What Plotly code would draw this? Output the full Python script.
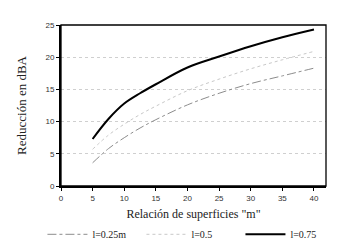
import plotly.graph_objects as go

m_vals = [5, 7.5, 10, 12.5, 15, 20, 25, 30, 35, 40]
red_025 = [3.6, 5.8, 7.5, 9.0, 10.3, 12.6, 14.4, 15.9, 17.1, 18.3]
red_05 = [5.7, 7.9, 9.6, 11.1, 12.4, 14.8, 16.6, 18.2, 19.6, 20.9]
red_075 = [7.3, 10.4, 12.8, 14.4, 15.8, 18.4, 20.1, 21.7, 23.1, 24.3]

series_names = ["l=0.25m", "l=0.5", "l=0.75"]
x_ticks = [0, 5, 10, 15, 20, 25, 30, 35, 40]
y_ticks = [0, 5, 10, 15, 20, 25]

serif = "Liberation Serif, Times New Roman, serif"
sans = "Liberation Sans, Arial, sans-serif"

fig = go.Figure()
fig.add_trace(go.Scatter(x=m_vals, y=red_025, mode="lines", name=series_names[0],
                         line=dict(color="#8c8c8c", width=1, dash="dashdot", shape="spline")))
fig.add_trace(go.Scatter(x=m_vals, y=red_05, mode="lines", name=series_names[1],
                         line=dict(color="#c8c8c8", width=1, dash="dot", shape="spline")))
fig.add_trace(go.Scatter(x=m_vals, y=red_075, mode="lines", name=series_names[2],
                         line=dict(color="black", width=2, shape="spline")))

fig.update_layout(
    width=339, height=248,
    margin=dict(l=53, r=21, t=17, b=70, autoexpand=False),
    paper_bgcolor="white", plot_bgcolor="white",
    showlegend=True,
    legend=dict(orientation="h", x=-0.07, xanchor="left", y=-0.30, yanchor="middle",
                font=dict(family=serif, size=10, color="#222"),
                entrywidth=44, itemwidth=40, tracegroupgap=0,
                bgcolor="rgba(0,0,0,0)"),
    xaxis=dict(range=[0, 41.9], tickvals=x_ticks, showgrid=False, zeroline=False,
               showline=True, linecolor="black", linewidth=2, mirror=False,
               ticks="outside", ticklen=3, tickcolor="black",
               tickfont=dict(family=sans, size=8, color="#333"),
               title=dict(text='Relación de superficies "m"', standoff=8,
                          font=dict(family=serif, size=12, color="#222"))),
    yaxis=dict(range=[0, 25], tickvals=y_ticks, showgrid=True, gridcolor="#cfcfcf",
               griddash="dot", gridwidth=1, zeroline=False,
               showline=True, linecolor="black", linewidth=2,
               ticks="outside", ticklen=3, tickcolor="black",
               tickfont=dict(family=sans, size=8, color="#333"),
               title=dict(text="Reducción en dBA", standoff=16,
                          font=dict(family=serif, size=13, color="#222"))),
)
# top and right frame (thinner)
fig.add_shape(type="rect", xref="paper", yref="paper", x0=0, y0=0, x1=1, y1=1,
              line=dict(color="black", width=1.3), layer="above")

fig.write_html("out.html")
